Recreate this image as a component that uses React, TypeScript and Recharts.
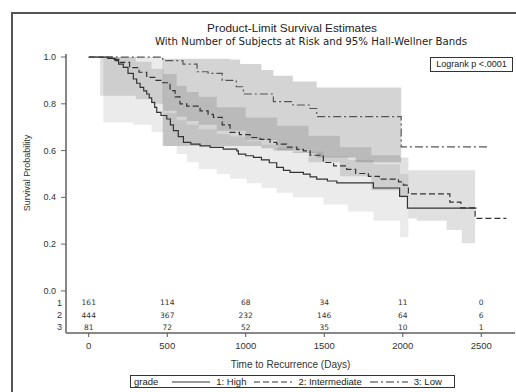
import React from 'react';
import { ComposedChart, Area, Line, Scatter, XAxis, YAxis, Legend } from 'recharts';

// Kaplan-Meier estimates (time in days, survival probability)
const highTimes = [0, 120, 168, 190, 220, 250, 284, 305, 327, 350, 369, 385, 401, 420, 433, 460, 497, 520, 539, 570, 603, 650, 709, 773, 857, 943, 953, 1000, 1049, 1100, 1150, 1197, 1240, 1282, 1367, 1410, 1452, 1520, 1580, 1813, 1980, 2030, 2470];
const highSurv = [1.0, 0.994, 0.985, 0.97, 0.956, 0.93, 0.906, 0.888, 0.87, 0.855, 0.842, 0.825, 0.806, 0.785, 0.763, 0.75, 0.735, 0.71, 0.685, 0.66, 0.635, 0.628, 0.62, 0.614, 0.606, 0.599, 0.585, 0.578, 0.571, 0.56, 0.548, 0.528, 0.515, 0.507, 0.499, 0.488, 0.478, 0.47, 0.462, 0.44, 0.404, 0.354, 0.354];

const intTimes = [0, 150, 200, 260, 320, 369, 420, 465, 518, 550, 581, 624, 709, 760, 794, 850, 900, 960, 1027, 1091, 1155, 1197, 1260, 1325, 1367, 1410, 1494, 1560, 1643, 1700, 1781, 1850, 1973, 2004, 2036, 2300, 2370, 2461, 2660];
const intSurv = [1.0, 0.99, 0.977, 0.955, 0.935, 0.913, 0.9, 0.89, 0.856, 0.83, 0.8, 0.79, 0.77, 0.755, 0.742, 0.71, 0.678, 0.668, 0.656, 0.648, 0.635, 0.628, 0.615, 0.605, 0.599, 0.58, 0.549, 0.535, 0.52, 0.502, 0.49, 0.478, 0.466, 0.452, 0.415, 0.38, 0.355, 0.31, 0.31];

const lowTimes = [0, 471, 600, 690, 760, 850, 940, 985, 1176, 1300, 1410, 1452, 1990, 2555];
const lowSurv = [1.0, 0.985, 0.97, 0.937, 0.93, 0.9, 0.873, 0.842, 0.809, 0.795, 0.78, 0.745, 0.616, 0.616];

// 95% Hall-Wellner bands
const highBandTimes = [93, 280, 400, 475, 560, 624, 700, 815, 900, 1006, 1100, 1197, 1300, 1494, 1650, 1813, 1983, 2036];
const highBandLower = [0.72, 0.71, 0.68, 0.62, 0.585, 0.55, 0.52, 0.5, 0.48, 0.46, 0.44, 0.42, 0.4, 0.37, 0.34, 0.3, 0.23, 0.23];
const highBandUpper = [1.0, 1.0, 1.0, 0.76, 0.73, 0.71, 0.69, 0.67, 0.66, 0.64, 0.625, 0.61, 0.595, 0.575, 0.56, 0.54, 0.5, 0.5];

const intBandTimes = [72, 250, 300, 400, 475, 560, 624, 700, 815, 1000, 1200, 1400, 1600, 1800, 1983, 2036, 2089, 2280, 2376, 2461];
const intBandLower = [0.834, 0.834, 0.82, 0.8, 0.77, 0.745, 0.727, 0.71, 0.685, 0.645, 0.6, 0.55, 0.49, 0.43, 0.4, 0.31, 0.3, 0.26, 0.204, 0.204];
const intBandUpper = [1.0, 1.0, 0.98, 0.95, 0.927, 0.877, 0.85, 0.83, 0.785, 0.742, 0.706, 0.663, 0.614, 0.58, 0.57, 0.516, 0.516, 0.516, 0.516, 0.516];

const lowBandTimes = [471, 900, 964, 1100, 1176, 1300, 1452, 1700, 1990];
const lowBandLower = [0.62, 0.62, 0.62, 0.61, 0.6, 0.59, 0.57, 0.55, 0.54];
const lowBandUpper = [0.993, 0.99, 0.97, 0.945, 0.92, 0.895, 0.87, 0.87, 0.87];

// Number of subjects at risk
const riskTimes = [0, 500, 1000, 1500, 2000, 2500];
const riskGroups = ['1', '2', '3'];
const riskHigh = [161, 114, 68, 34, 11, 0];
const riskInt = [444, 367, 232, 146, 64, 6];
const riskLow = [81, 72, 52, 35, 10, 1];

const xTicks = [0, 500, 1000, 1500, 2000, 2500];
const yTicks = [0, 0.2, 0.4, 0.6, 0.8, 1.0];

// vertical slots (in y units) of the at-risk rows under the curves
const ROW_Y = [-0.051, -0.104, -0.155];

const curve = (ts: number[], ss: number[]) => ts.map((t, i) => ({ t, s: ss[i] }));
const band = (ts: number[], lo: number[], hi: number[]) => ts.map((t, i) => ({ t, band: [lo[i], hi[i]] }));
const riskRow = (ns: number[], row: number) => riskTimes.map((t, i) => ({ t, y: ROW_Y[row], n: ns[i] }));

const highData = curve(highTimes, highSurv);
const intData = curve(intTimes, intSurv);
const lowData = curve(lowTimes, lowSurv);
const highBand = band(highBandTimes, highBandLower, highBandUpper);
const intBand = band(intBandTimes, intBandLower, intBandUpper);
const lowBand = band(lowBandTimes, lowBandLower, lowBandUpper);

const legendItems = [
  { name: '1: High', dash: undefined },
  { name: '2: Intermediate', dash: '6 3' },
  { name: '3: Low', dash: '8 3 2 3' },
];

const FONT = '"Liberation Sans", Arial, sans-serif';
const WIDE = '"DejaVu Sans", Verdana, sans-serif';

const YTick = (props: any) => {
  const { x, y, payload } = props;
  const row = ROW_Y.indexOf(payload.value);
  if (row >= 0) {
    return (
      <text x={x - 4} y={y} dy={3} textAnchor="end" fontSize={9} fill="#333">
        {riskGroups[row]}
      </text>
    );
  }
  return (
    <g>
      <line x1={x - 5} x2={x} y1={y} y2={y} stroke="#666" />
      <text x={x - 10} y={y} dy={3} textAnchor="end" fontSize={9} fill="#333">
        {Number(payload.value).toFixed(1)}
      </text>
    </g>
  );
};

const RiskText = (props: any) => {
  const { cx, cy, payload } = props;
  return (
    <text x={cx} y={cy} dy={2.5} textAnchor="middle" fontSize={7.5} fontFamily={WIDE} fill="#333">
      {payload.n}
    </text>
  );
};

const GradeLegend = () => (
  <div
    style={{
      display: 'flex',
      alignItems: 'center',
      border: '1px solid #333',
      height: 11,
      padding: '0 4px 0 3px',
      fontSize: 9.5,
      color: '#222',
      background: '#fff',
      whiteSpace: 'nowrap',
      fontFamily: FONT,
    }}
  >
    <span style={{ marginRight: 14 }}>grade</span>
    {legendItems.map((it) => (
      <React.Fragment key={it.name}>
        <svg width={38} height={6}>
          <line x1={0} x2={38} y1={3} y2={3} stroke="#333" strokeWidth={1.2} strokeDasharray={it.dash} />
        </svg>
        <span style={{ marginLeft: 6, marginRight: 8 }}>{it.name}</span>
      </React.Fragment>
    ))}
  </div>
);

export default function App() {
  return (
    <div style={{ position: 'absolute', left: 0, top: 0, width: 516, height: 392, background: '#fff', fontFamily: FONT, overflow: 'hidden' }}>
      <div style={{ position: 'absolute', left: 11, top: 12, width: 520, height: 400, borderLeft: '2px solid #555', borderTop: '2px solid #555' }} />
      <div style={{ position: 'absolute', left: 92, width: 400, top: 21, textAlign: 'center', fontSize: 11.8, color: '#222' }}>
        Product-Limit Survival Estimates
      </div>
      <div style={{ position: 'absolute', left: 111, width: 400, top: 36, textAlign: 'center', fontSize: 10.2, fontFamily: WIDE, color: '#222', whiteSpace: 'nowrap' }}>
        With Number of Subjects at Risk and 95% Hall-Wellner Bands
      </div>
      <ComposedChart width={516} height={392} margin={{ top: 54, right: 1, bottom: 0, left: 0 }} style={{ position: 'absolute', left: 0, top: 0 }}>
        <XAxis
          type="number"
          dataKey="t"
          domain={[-145, 2715]}
          allowDataOverflow
          ticks={xTicks}
          interval={0}
          height={59}
          stroke="#888"
          strokeWidth={2}
          tickSize={4}
          tickMargin={5}
          tick={{ fontSize: 9.5, fill: '#333' }}
          tickLine={{ stroke: '#555', strokeWidth: 1 }}
          label={{ value: 'Time to Recurrence (Days)', position: 'insideBottom', offset: 24, fontSize: 10, fill: '#333' }}
        />
        <XAxis xAxisId="top" orientation="top" type="number" domain={[-145, 2715]} height={0} tick={false} tickLine={false} stroke="#888" strokeWidth={2} />
        <YAxis
          type="number"
          domain={[-0.18, 1.013]}
          allowDataOverflow
          ticks={[...ROW_Y, ...yTicks]}
          interval={0}
          width={66}
          stroke="#888"
          strokeWidth={2}
          tickSize={0}
          tickMargin={0}
          tickLine={false}
          tick={<YTick />}
          label={{
            content: () => (
              <text x={27} y={173} transform="rotate(-90, 27, 173)" textAnchor="middle" dy={3} fontSize={9} fill="#333">
                Survival Probability
              </text>
            ),
          }}
        />
        <YAxis yAxisId="right" orientation="right" type="number" domain={[-0.18, 1.013]} width={0} tick={false} tickLine={false} stroke="#888" strokeWidth={2} />

        <Area data={highBand} dataKey="band" type="stepAfter" stroke="none" fill="#000" fillOpacity={0.08} isAnimationActive={false} activeDot={false} />
        <Area data={intBand} dataKey="band" type="stepAfter" stroke="none" fill="#000" fillOpacity={0.12} isAnimationActive={false} activeDot={false} />
        <Area data={lowBand} dataKey="band" type="stepAfter" stroke="none" fill="#000" fillOpacity={0.17} isAnimationActive={false} activeDot={false} />

        <Line data={highData} dataKey="s" name="1: High" type="stepAfter" stroke="#333" strokeWidth={1.2} dot={false} activeDot={false} isAnimationActive={false} />
        <Line data={intData} dataKey="s" name="2: Intermediate" type="stepAfter" stroke="#333" strokeWidth={1.2} strokeDasharray="6 3" dot={false} activeDot={false} isAnimationActive={false} />
        <Line data={lowData} dataKey="s" name="3: Low" type="stepAfter" stroke="#555" strokeWidth={1.2} strokeDasharray="8 3 2 3" dot={false} activeDot={false} isAnimationActive={false} />

        <Scatter data={riskRow(riskHigh, 0)} dataKey="y" shape={<RiskText />} isAnimationActive={false} />
        <Scatter data={riskRow(riskInt, 1)} dataKey="y" shape={<RiskText />} isAnimationActive={false} />
        <Scatter data={riskRow(riskLow, 2)} dataKey="y" shape={<RiskText />} isAnimationActive={false} />

        <Legend verticalAlign="middle" align="center" layout="horizontal" content={<GradeLegend />} wrapperStyle={{ top: 375, left: 130, width: 'auto' }} />
      </ComposedChart>
      <div style={{ position: 'absolute', left: 430, top: 57, width: 81, height: 13, border: '1px solid #333', fontSize: 9, lineHeight: '13px', textAlign: 'center', color: '#222', background: '#fff' }}>
        Logrank p &lt;.0001
      </div>
    </div>
  );
}
